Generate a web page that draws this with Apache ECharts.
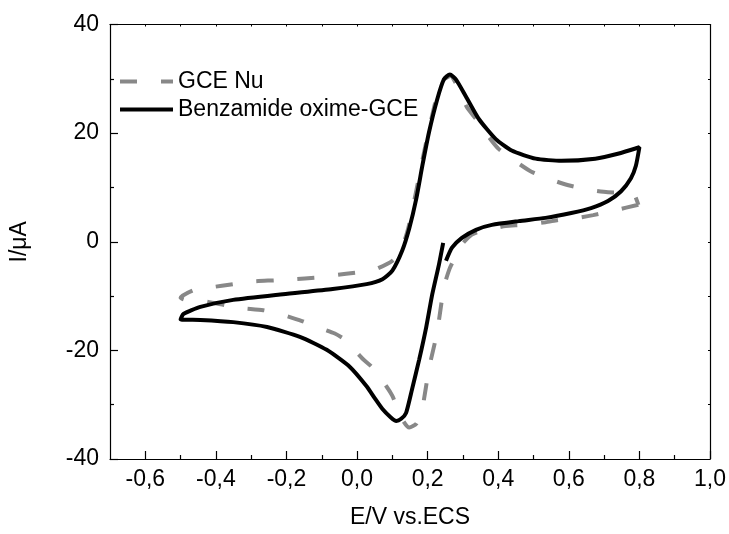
<!DOCTYPE html>
<html>
<head>
<meta charset="utf-8">
<script src="https://cdn.jsdelivr.net/npm/echarts@6/dist/echarts.min.js"></script>
<style>html,body{margin:0;padding:0;background:#fff}#c{width:729px;height:534px}</style>
</head>
<body>
<div id="c"></div>
<script>
// ---- data ----
const seriesNames = ['GCE Nu', 'Benzamide oxime-GCE'];
const xTickLabels = [-0.6, -0.4, -0.2, 0.0, 0.2, 0.4, 0.6, 0.8, 1.0];
const xMinorTicks = [-0.5, -0.3, -0.1, 0.1, 0.3, 0.5, 0.7, 0.9];

const benzE = [0.244, 0.232, 0.213, 0.196, 0.176, 0.156, 0.139, 0.125, 0.111, 0.095, 0.072, 0.050, 0.027, -0.021, -0.086, -0.162, -0.255, -0.351, -0.444, -0.500, -0.492, -0.444, -0.351, -0.210, -0.069, 0.027, 0.072, 0.100, 0.128, 0.148, 0.168, 0.185, 0.204, 0.227, 0.246, 0.263, 0.280, 0.308, 0.345, 0.393, 0.438, 0.506, 0.579, 0.675, 0.739, 0.800, 0.790, 0.776, 0.748, 0.711, 0.663, 0.607, 0.534, 0.458, 0.382, 0.337, 0.297, 0.269, 0.252];
const benzI = [-0.2, -4.2, -9.7, -15.7, -21.7, -27.1, -31.5, -32.6, -33.0, -32.3, -30.8, -28.8, -26.6, -23.0, -19.9, -17.5, -15.7, -14.8, -14.4, -14.3, -13.3, -12.0, -10.7, -9.65, -8.7, -7.8, -6.9, -5.3, -1.6, 2.5, 8.0, 14.0, 20.2, 26.2, 29.9, 30.8, 29.9, 26.8, 22.6, 18.9, 16.8, 15.3, 14.9, 15.3, 16.2, 17.4, 14.0, 11.7, 9.3, 7.5, 6.2, 5.3, 4.4, 3.8, 3.1, 2.2, 0.7, -1.1, -3.5];

const gceE = [0.797, 0.731, 0.669, 0.627, 0.570, 0.534, 0.466, 0.421, 0.354, 0.325, 0.297, 0.280, 0.262, 0.246, 0.227, 0.204, 0.185, 0.168, 0.148, 0.131, 0.100, 0.083, 0.041, 0.015, -0.035, -0.063, -0.114, -0.156, -0.218, -0.266, -0.331, -0.373, -0.438, -0.486, -0.500, -0.463, -0.415, -0.351, -0.297, -0.232, -0.182, -0.114, -0.069, 0.007, 0.044, 0.100, 0.125, 0.145, 0.165, 0.185, 0.205, 0.225, 0.245, 0.265, 0.285, 0.311, 0.337, 0.373, 0.401, 0.458, 0.494, 0.556, 0.599, 0.663, 0.711, 0.782, 0.797];
const gceI = [6.8, 5.8, 4.9, 4.4, 4.0, 3.6, 3.1, 2.9, 2.0, 1.3, -0.5, -2.6, -5.0, -8.4, -16.6, -23.3, -30.6, -33.5, -34.2, -33.0, -28.4, -26.6, -23.0, -21.5, -18.0, -16.9, -15.7, -14.6, -13.3, -12.6, -12.2, -11.7, -10.9, -10.7, -10.3, -8.9, -8.4, -7.8, -7.3, -7.1, -6.9, -6.6, -6.2, -5.6, -5.3, -3.5, -1.5, 2.5, 8.5, 15.0, 21.0, 26.5, 29.8, 30.5, 28.5, 24.8, 22.6, 19.3, 17.1, 14.4, 12.9, 11.3, 10.4, 9.5, 9.1, 8.9, 6.8];

const pairs = (xs, ys) => xs.map((x, i) => [x, ys[i]]);
const FONT = '"Liberation Sans", Arial, sans-serif';
const FS = 23;
const fmtX = v => Number(v).toFixed(1).replace('.', ',');

const chart = echarts.init(document.getElementById('c'), null, { renderer: 'canvas' });
const axisLine = { show: true, onZero: false, lineStyle: { color: '#000', width: 1.2 } };
chart.setOption({
  animation: false,
  backgroundColor: '#fff',
  grid: { left: 109, right: 19, top: 24.5, bottom: 70 },
  legend: {
    orient: 'vertical', left: 113, top: 65,
    itemWidth: 53, itemHeight: 14, itemGap: 5,
    itemStyle: { opacity: 0 },
    lineStyle: { width: 4 },
    textStyle: { fontFamily: FONT, fontSize: FS, color: '#000' },
    data: seriesNames
  },
  xAxis: [
    { type: 'value', position: 'bottom', min: -0.7, max: 1.0,
      axisLine: axisLine, splitLine: { show: false },
      axisTick: { show: true, inside: true, length: 8, customValues: xTickLabels, lineStyle: { color: '#000', width: 1.2 } },
      axisLabel: { show: true, customValues: xTickLabels, formatter: fmtX, fontFamily: FONT, fontSize: FS, color: '#000', margin: 9 },
      name: 'E/V vs.ECS', nameLocation: 'middle', nameGap: 47,
      nameTextStyle: { fontFamily: FONT, fontSize: FS, color: '#000' } },
    { type: 'value', position: 'bottom', min: -0.7, max: 1.0,
      axisLine: { show: false, onZero: false }, splitLine: { show: false },
      axisTick: { show: true, inside: true, length: 4, customValues: xMinorTicks, lineStyle: { color: '#000', width: 1.2 } },
      axisLabel: { show: false } },
    { type: 'value', position: 'top', min: -0.7, max: 1.0, interval: 0.1,
      axisLine: axisLine, splitLine: { show: false },
      axisTick: { show: true, inside: true, length: 2, lineStyle: { color: '#000' } },
      axisLabel: { show: false } }
  ],
  yAxis: [
    { type: 'value', position: 'left', min: -40, max: 40, interval: 20,
      axisLine: axisLine, splitLine: { show: false },
      axisTick: { show: true, inside: true, length: 8, lineStyle: { color: '#000', width: 1.2 } },
      minorTick: { show: true, splitNumber: 2, length: 4, lineStyle: { color: '#000', width: 1.2 } },
      minorSplitLine: { show: false },
      axisLabel: { fontFamily: FONT, fontSize: FS, color: '#000', margin: 11 },
      name: 'I/μA', nameLocation: 'middle', nameGap: 79,
      nameTextStyle: { fontFamily: FONT, fontSize: FS, color: '#000' } },
    { type: 'value', position: 'right', min: -40, max: 40, interval: 10,
      axisLine: axisLine, splitLine: { show: false },
      axisTick: { show: true, inside: true, length: 2, lineStyle: { color: '#000' } },
      axisLabel: { show: false } }
  ],
  series: [
    { name: seriesNames[0], type: 'line', data: pairs(gceE, gceI),
      xAxisIndex: 0, yAxisIndex: 0, symbol: 'none', smooth: 0.2,
      lineStyle: { color: '#888888', width: 4, type: [17, 24], cap: 'butt' },
      itemStyle: { color: '#888888' }, z: 2 },
    { name: seriesNames[1], type: 'line', data: pairs(benzE, benzI),
      xAxisIndex: 0, yAxisIndex: 0, symbol: 'none', smooth: 0.2,
      lineStyle: { color: '#000000', width: 4 },
      itemStyle: { color: '#000000' }, z: 3 }
  ]
});
</script>
</body>
</html>
